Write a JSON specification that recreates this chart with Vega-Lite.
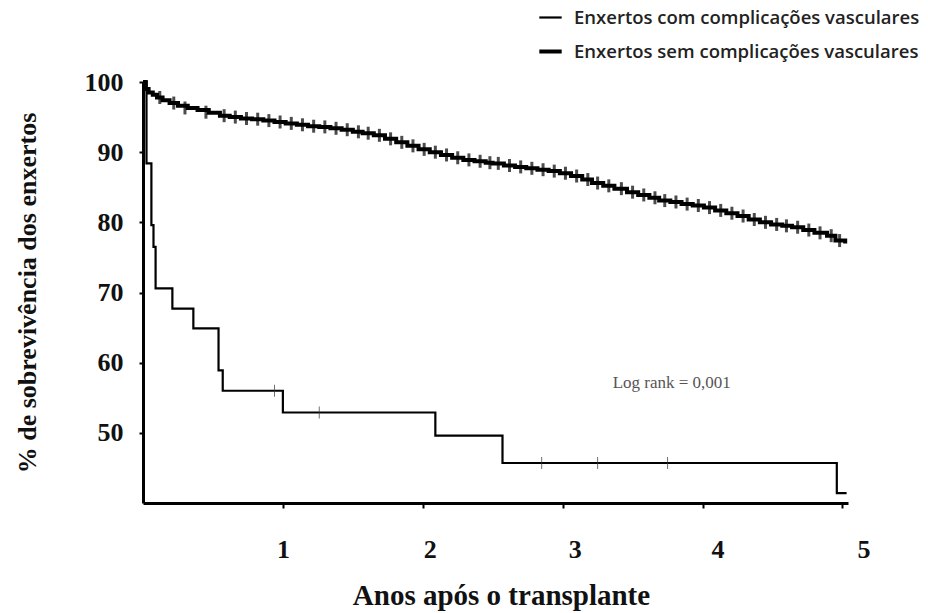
{
  "$schema": "https://vega.github.io/schema/vega-lite/v6.json",
  "width": 705,
  "height": 421,
  "autosize": "none",
  "padding": {"left": 143, "top": 82, "right": 80, "bottom": 110},
  "background": "white",
  "config": {"view": {"stroke": null}, "font": "Liberation Serif"},
  "datasets": {
    "curves": [
      {"grupo": "Enxertos com complicações vasculares", "t": 0, "s": 100},
      {"grupo": "Enxertos com complicações vasculares", "t": 0.025, "s": 88.4},
      {"grupo": "Enxertos com complicações vasculares", "t": 0.06, "s": 79.6},
      {"grupo": "Enxertos com complicações vasculares", "t": 0.075, "s": 76.5},
      {"grupo": "Enxertos com complicações vasculares", "t": 0.09, "s": 70.6},
      {"grupo": "Enxertos com complicações vasculares", "t": 0.21, "s": 67.7},
      {"grupo": "Enxertos com complicações vasculares", "t": 0.36, "s": 64.9},
      {"grupo": "Enxertos com complicações vasculares", "t": 0.54, "s": 58.9},
      {"grupo": "Enxertos com complicações vasculares", "t": 0.57, "s": 56.0},
      {"grupo": "Enxertos com complicações vasculares", "t": 1.0, "s": 52.9},
      {"grupo": "Enxertos com complicações vasculares", "t": 2.09, "s": 49.6},
      {"grupo": "Enxertos com complicações vasculares", "t": 2.57, "s": 45.7},
      {"grupo": "Enxertos com complicações vasculares", "t": 4.96, "s": 41.4},
      {"grupo": "Enxertos com complicações vasculares", "t": 5.03, "s": 41.4},
      {"grupo": "Enxertos sem complicações vasculares", "t": 0, "s": 100},
      {"grupo": "Enxertos sem complicações vasculares", "t": 0.02, "s": 99.0},
      {"grupo": "Enxertos sem complicações vasculares", "t": 0.04, "s": 98.5},
      {"grupo": "Enxertos sem complicações vasculares", "t": 0.07, "s": 98.2},
      {"grupo": "Enxertos sem complicações vasculares", "t": 0.1, "s": 97.8},
      {"grupo": "Enxertos sem complicações vasculares", "t": 0.14, "s": 97.4},
      {"grupo": "Enxertos sem complicações vasculares", "t": 0.19, "s": 97.0},
      {"grupo": "Enxertos sem complicações vasculares", "t": 0.25, "s": 96.6},
      {"grupo": "Enxertos sem complicações vasculares", "t": 0.32, "s": 96.3},
      {"grupo": "Enxertos sem complicações vasculares", "t": 0.39, "s": 96.0},
      {"grupo": "Enxertos sem complicações vasculares", "t": 0.47, "s": 95.6},
      {"grupo": "Enxertos sem complicações vasculares", "t": 0.55, "s": 95.2},
      {"grupo": "Enxertos sem complicações vasculares", "t": 0.62, "s": 95.0},
      {"grupo": "Enxertos sem complicações vasculares", "t": 0.7, "s": 94.8},
      {"grupo": "Enxertos sem complicações vasculares", "t": 0.78, "s": 94.7},
      {"grupo": "Enxertos sem complicações vasculares", "t": 0.86, "s": 94.5},
      {"grupo": "Enxertos sem complicações vasculares", "t": 0.94, "s": 94.3},
      {"grupo": "Enxertos sem complicações vasculares", "t": 1.02, "s": 94.1},
      {"grupo": "Enxertos sem complicações vasculares", "t": 1.1, "s": 93.9},
      {"grupo": "Enxertos sem complicações vasculares", "t": 1.18, "s": 93.7},
      {"grupo": "Enxertos sem complicações vasculares", "t": 1.26, "s": 93.6},
      {"grupo": "Enxertos sem complicações vasculares", "t": 1.34, "s": 93.4},
      {"grupo": "Enxertos sem complicações vasculares", "t": 1.42, "s": 93.2},
      {"grupo": "Enxertos sem complicações vasculares", "t": 1.5, "s": 92.9},
      {"grupo": "Enxertos sem complicações vasculares", "t": 1.57, "s": 92.7},
      {"grupo": "Enxertos sem complicações vasculares", "t": 1.65, "s": 92.4},
      {"grupo": "Enxertos sem complicações vasculares", "t": 1.73, "s": 91.9},
      {"grupo": "Enxertos sem complicações vasculares", "t": 1.81, "s": 91.4},
      {"grupo": "Enxertos sem complicações vasculares", "t": 1.89, "s": 90.9},
      {"grupo": "Enxertos sem complicações vasculares", "t": 1.97, "s": 90.4},
      {"grupo": "Enxertos sem complicações vasculares", "t": 2.05, "s": 90.0},
      {"grupo": "Enxertos sem complicações vasculares", "t": 2.13, "s": 89.6},
      {"grupo": "Enxertos sem complicações vasculares", "t": 2.21, "s": 89.2},
      {"grupo": "Enxertos sem complicações vasculares", "t": 2.29, "s": 88.9},
      {"grupo": "Enxertos sem complicações vasculares", "t": 2.37, "s": 88.7},
      {"grupo": "Enxertos sem complicações vasculares", "t": 2.45, "s": 88.5},
      {"grupo": "Enxertos sem complicações vasculares", "t": 2.5, "s": 88.4},
      {"grupo": "Enxertos sem complicações vasculares", "t": 2.58, "s": 88.1},
      {"grupo": "Enxertos sem complicações vasculares", "t": 2.66, "s": 87.9},
      {"grupo": "Enxertos sem complicações vasculares", "t": 2.74, "s": 87.7},
      {"grupo": "Enxertos sem complicações vasculares", "t": 2.82, "s": 87.5},
      {"grupo": "Enxertos sem complicações vasculares", "t": 2.9, "s": 87.3},
      {"grupo": "Enxertos sem complicações vasculares", "t": 2.98, "s": 87.0},
      {"grupo": "Enxertos sem complicações vasculares", "t": 3.06, "s": 86.6},
      {"grupo": "Enxertos sem complicações vasculares", "t": 3.14, "s": 86.1},
      {"grupo": "Enxertos sem complicações vasculares", "t": 3.21, "s": 85.6},
      {"grupo": "Enxertos sem complicações vasculares", "t": 3.29, "s": 85.2},
      {"grupo": "Enxertos sem complicações vasculares", "t": 3.37, "s": 84.8},
      {"grupo": "Enxertos sem complicações vasculares", "t": 3.46, "s": 84.3},
      {"grupo": "Enxertos sem complicações vasculares", "t": 3.54, "s": 83.9},
      {"grupo": "Enxertos sem complicações vasculares", "t": 3.62, "s": 83.5},
      {"grupo": "Enxertos sem complicações vasculares", "t": 3.69, "s": 83.1},
      {"grupo": "Enxertos sem complicações vasculares", "t": 3.77, "s": 82.9},
      {"grupo": "Enxertos sem complicações vasculares", "t": 3.85, "s": 82.6},
      {"grupo": "Enxertos sem complicações vasculares", "t": 3.93, "s": 82.4},
      {"grupo": "Enxertos sem complicações vasculares", "t": 4.01, "s": 82.1},
      {"grupo": "Enxertos sem complicações vasculares", "t": 4.09, "s": 81.7},
      {"grupo": "Enxertos sem complicações vasculares", "t": 4.17, "s": 81.3},
      {"grupo": "Enxertos sem complicações vasculares", "t": 4.25, "s": 80.9},
      {"grupo": "Enxertos sem complicações vasculares", "t": 4.33, "s": 80.4},
      {"grupo": "Enxertos sem complicações vasculares", "t": 4.41, "s": 80.0},
      {"grupo": "Enxertos sem complicações vasculares", "t": 4.49, "s": 79.7},
      {"grupo": "Enxertos sem complicações vasculares", "t": 4.57, "s": 79.5},
      {"grupo": "Enxertos sem complicações vasculares", "t": 4.64, "s": 79.3},
      {"grupo": "Enxertos sem complicações vasculares", "t": 4.72, "s": 78.9},
      {"grupo": "Enxertos sem complicações vasculares", "t": 4.8, "s": 78.5},
      {"grupo": "Enxertos sem complicações vasculares", "t": 4.89, "s": 78.1},
      {"grupo": "Enxertos sem complicações vasculares", "t": 4.95, "s": 77.4},
      {"grupo": "Enxertos sem complicações vasculares", "t": 5.02, "s": 77.0}
    ],
    "censor_com": [
      {"t": 0.94, "s": 56.0},
      {"t": 1.26, "s": 52.9},
      {"t": 2.85, "s": 45.7},
      {"t": 3.25, "s": 45.7},
      {"t": 3.75, "s": 45.7}
    ],
    "censor_sem": [
      {"t": 0.12, "s": 97.8}, {"t": 0.22, "s": 97.0},
      {"t": 0.3, "s": 96.3}, {"t": 0.45, "s": 95.7}, {"t": 0.58, "s": 95.2}, {"t": 0.66, "s": 95.0},
      {"t": 0.74, "s": 94.8}, {"t": 0.82, "s": 94.7}, {"t": 0.9, "s": 94.5}, {"t": 0.98, "s": 94.3},
      {"t": 1.06, "s": 94.1}, {"t": 1.14, "s": 93.9}, {"t": 1.22, "s": 93.7}, {"t": 1.3, "s": 93.6},
      {"t": 1.38, "s": 93.4}, {"t": 1.46, "s": 93.2}, {"t": 1.54, "s": 92.9}, {"t": 1.61, "s": 92.7},
      {"t": 1.69, "s": 92.4}, {"t": 1.77, "s": 91.9}, {"t": 1.85, "s": 91.4}, {"t": 1.93, "s": 90.9},
      {"t": 2.01, "s": 90.4}, {"t": 2.09, "s": 90.0}, {"t": 2.17, "s": 89.6}, {"t": 2.25, "s": 89.2},
      {"t": 2.33, "s": 88.9}, {"t": 2.41, "s": 88.7}, {"t": 2.48, "s": 88.5}, {"t": 2.54, "s": 88.4},
      {"t": 2.62, "s": 88.1}, {"t": 2.7, "s": 87.9}, {"t": 2.78, "s": 87.7}, {"t": 2.86, "s": 87.5},
      {"t": 2.94, "s": 87.3}, {"t": 3.02, "s": 87.0}, {"t": 3.1, "s": 86.6}, {"t": 3.18, "s": 86.1},
      {"t": 3.25, "s": 85.6}, {"t": 3.33, "s": 85.2}, {"t": 3.42, "s": 84.8}, {"t": 3.5, "s": 84.3},
      {"t": 3.58, "s": 83.9}, {"t": 3.66, "s": 83.5}, {"t": 3.73, "s": 83.1}, {"t": 3.81, "s": 82.9},
      {"t": 3.89, "s": 82.6}, {"t": 3.97, "s": 82.4}, {"t": 4.05, "s": 82.1}, {"t": 4.13, "s": 81.7},
      {"t": 4.21, "s": 81.3}, {"t": 4.29, "s": 80.9}, {"t": 4.37, "s": 80.4}, {"t": 4.45, "s": 80.0},
      {"t": 4.53, "s": 79.7}, {"t": 4.6, "s": 79.5}, {"t": 4.68, "s": 79.3}, {"t": 4.76, "s": 78.9},
      {"t": 4.84, "s": 78.5}, {"t": 4.92, "s": 78.1}, {"t": 4.98, "s": 77.4}
    ],
    "note": [{"t": 3.78, "s": 57.1, "label": "Log rank = 0,001"}]
  },
  "layer": [
    {
      "data": {"name": "curves"},
      "mark": {"type": "line", "interpolate": "step-after", "color": "black"},
      "encoding": {
        "x": {
          "field": "t", "type": "quantitative",
          "scale": {"domain": [0, 5.04], "nice": false, "zero": false},
          "axis": {
            "values": [1, 2, 3, 4, 5],
            "format": "d",
            "title": "Anos após o transplante",
            "grid": false,
            "domainColor": "black", "domainWidth": 3,
            "tickColor": "black", "tickWidth": 2, "tickSize": 5,
            "labelFont": "Liberation Serif", "labelFontWeight": "bold", "labelFontSize": 26,
            "labelColor": "#111", "labelPadding": 28, "labelFlush": false,
            "labelOffset": {
              "condition": [
                {"test": "datum.value == 2", "value": 7},
                {"test": "datum.value == 3", "value": 12},
                {"test": "datum.value == 4", "value": 15},
                {"test": "datum.value == 5", "value": 21}
              ],
              "value": 0
            },
            "titleFont": "Liberation Serif", "titleFontWeight": "bold", "titleFontSize": 29,
            "titleColor": "#111", "titlePadding": 19, "titleX": 358
          }
        },
        "y": {
          "field": "s", "type": "quantitative",
          "scale": {"domain": [40, 100], "nice": false, "zero": false},
          "axis": {
            "values": [50, 60, 70, 80, 90, 100],
            "title": "% de sobrevivência dos enxertos",
            "grid": false,
            "domainColor": "black", "domainWidth": 3,
            "tickColor": "black", "tickWidth": 2, "tickSize": 4,
            "labelFont": "Liberation Serif", "labelFontWeight": "bold", "labelFontSize": 26,
            "labelColor": "#111", "labelPadding": 16,
            "titleFont": "Liberation Serif", "titleFontWeight": "bold", "titleFontSize": 26,
            "titleColor": "#111", "titlePadding": 44
          }
        },
        "strokeWidth": {
          "field": "grupo", "type": "nominal",
          "scale": {"domain": ["Enxertos com complicações vasculares", "Enxertos sem complicações vasculares"], "range": [2.2, 4]},
          "legend": {
            "orient": "none", "legendX": 394, "legendY": -77,
            "title": null,
            "symbolType": "stroke", "symbolSize": 500, "symbolStrokeColor": "black",
            "labelFont": "Open Sans", "labelFontSize": 18.5, "labelFontWeight": 600, "labelColor": "#222",
            "labelLimit": 0,
            "labelOffset": 10, "rowPadding": 11
          }
        }
      }
    },
    {
      "data": {"name": "censor_com"},
      "mark": {"type": "tick", "orient": "vertical", "color": "#333", "thickness": 1, "size": 12},
      "encoding": {
        "x": {"field": "t", "type": "quantitative"},
        "y": {"field": "s", "type": "quantitative"}
      }
    },
    {
      "data": {"name": "censor_sem"},
      "mark": {"type": "tick", "orient": "vertical", "color": "black", "thickness": 3, "size": 13},
      "encoding": {
        "x": {"field": "t", "type": "quantitative"},
        "y": {"field": "s", "type": "quantitative"}
      }
    },
    {
      "data": {"name": "note"},
      "mark": {"type": "text", "font": "Liberation Serif", "fontSize": 17, "color": "#555", "align": "center", "baseline": "middle"},
      "encoding": {
        "x": {"field": "t", "type": "quantitative"},
        "y": {"field": "s", "type": "quantitative"},
        "text": {"field": "label"}
      }
    }
  ]
}
